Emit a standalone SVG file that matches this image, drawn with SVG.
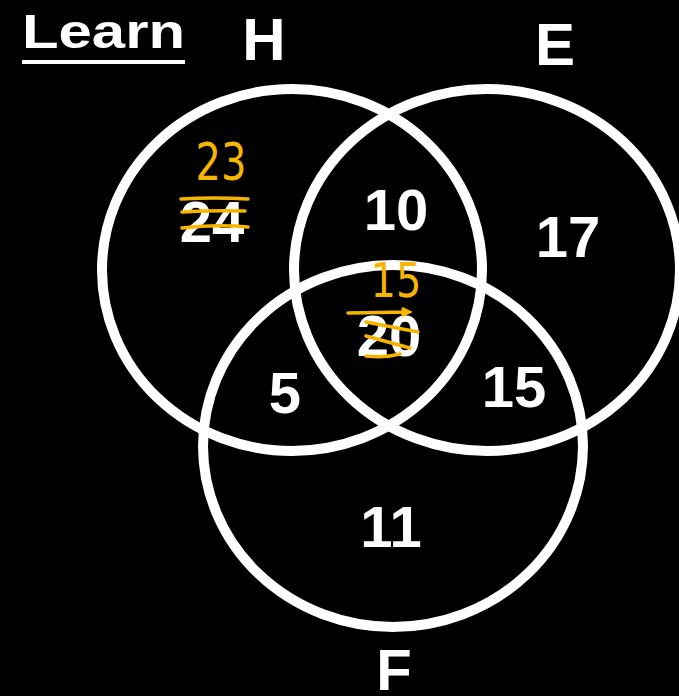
<svg xmlns="http://www.w3.org/2000/svg" width="679" height="696" viewBox="0 0 679 696">
<style>
.ring{fill:none;stroke:#fff;stroke-width:10}
.lbl{font-family:"Liberation Sans",Arial,sans-serif;font-weight:bold;fill:#fff;text-anchor:middle}
.num{font-size:58px}
.hand{font-family:"DejaVu Sans",sans-serif;font-weight:normal;font-size:40px;fill:#F7B500;text-anchor:middle}
.strike{fill:none;stroke:#F7B500;stroke-width:3.5;stroke-linecap:round}
</style>
<rect width="679" height="696" fill="#000"/>
<g id="title">
<text class="lbl" x="22" y="48" font-size="48" textLength="163" lengthAdjust="spacingAndGlyphs" style="text-anchor:start">Learn</text>
<rect x="22" y="60" width="163" height="4" fill="#fff"/>
</g>
<g id="circle-H">
<ellipse class="ring" cx="292" cy="270" rx="190" ry="181"/>
<text class="lbl" x="264" y="60" font-size="60">H</text>
</g>
<g id="circle-E">
<ellipse class="ring" cx="487" cy="270" rx="193" ry="181"/>
<text class="lbl" x="555" y="65" font-size="60">E</text>
</g>
<g id="circle-F">
<ellipse class="ring" cx="393" cy="446" rx="190" ry="181"/>
<text class="lbl" x="394" y="690" font-size="58">F</text>
</g>
<g id="regions">
<text class="lbl num" x="212" y="242" font-size="56">24</text>
<text class="lbl num" x="396" y="230">10</text>
<text class="lbl num" x="568" y="257">17</text>
<text class="lbl num" x="389" y="356" font-size="54">20</text>
<text class="lbl num" x="285" y="413" font-size="48">5</text>
<text class="lbl num" x="514" y="407" font-size="52">15</text>
<text class="lbl num" x="391" y="547">11</text>
</g>
<g id="corrections">
<text class="hand" transform="translate(221,180) scale(1,1.3)">23</text>
<text class="hand" transform="translate(396,297) scale(1,1.2)" font-size="36">15</text>
<path class="strike" d="M181 199 Q215 197 248 199 M182 212 Q214 210 245 211 M182 228 Q216 224 248 227"/>
<path class="strike" d="M348 313 L408 312 M403 309 L409 312 L403 315 M366 322 L418 332 M366 336 L410 348 M366 356 Q385 358 400 354"/>
</g>
</svg>
